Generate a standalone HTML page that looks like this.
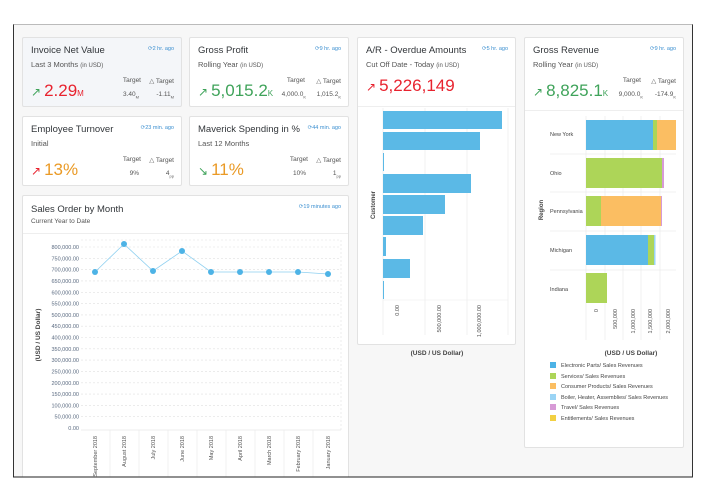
<!DOCTYPE html>
<html><head><meta charset="utf-8"><style>
body{margin:0;width:704px;height:489px;background:#fff;font-family:"Liberation Sans",sans-serif;position:relative;overflow:hidden;color:#32363a}
.frame{position:absolute;left:13px;top:24px;width:678px;height:452px;border:1px solid #333;border-top:1px solid #bbb;background:#f7f7f7;overflow:hidden}
.card{position:absolute;background:#fff;border:1px solid #e2e2e2;border-radius:2px;box-sizing:border-box}
.t{position:absolute;left:8px;top:7px;font-size:9.5px;color:#32363a}
.s{position:absolute;left:8px;top:22px;font-size:7.5px;color:#555}
.s small{font-size:6px}
.ago{position:absolute;right:7px;top:8px;font-size:5.5px;color:#3b8fd0}
.big{position:absolute;left:8px;top:43px;font-size:17px}
.big sub{font-size:8px;vertical-align:baseline}
.ar{font-size:12px;margin-right:3px}
.tl{position:absolute;font-size:6.5px;color:#555;text-align:right}
.red{color:#e8232f}.grn{color:#3fa35a}.org{color:#ea9a26}
svg text{font-family:"Liberation Sans",sans-serif}
</style></head><body>
<div class="frame"></div>
<!-- Invoice -->
<div class="card" style="left:22px;top:37px;width:160px;height:70px;background:#f4f6f9">
<div class="t">Invoice Net Value</div><div class="ago">⟳2 hr. ago</div>
<div class="s">Last 3 Months <small>(in USD)</small></div>
<div class="big red"><span class="ar grn">↗</span>2.29<sub>M</sub></div>
<div class="tl" style="right:40px;top:39px">Target</div><div class="tl" style="right:7px;top:39px">△ Target</div>
<div class="tl" style="right:42px;top:53px">3.40<sub style="font-size:4px">M</sub></div><div class="tl" style="right:7px;top:53px">-1.11<sub style="font-size:4px">M</sub></div>
</div>
<!-- Gross Profit -->
<div class="card" style="left:189px;top:37px;width:160px;height:70px">
<div class="t">Gross Profit</div><div class="ago">⟳9 hr. ago</div>
<div class="s">Rolling Year <small>(in USD)</small></div>
<div class="big grn"><span class="ar">↗</span>5,015.2<sub>K</sub></div>
<div class="tl" style="right:43px;top:39px">Target</div><div class="tl" style="right:7px;top:39px">△ Target</div>
<div class="tl" style="right:42px;top:53px">4,000.0<sub style="font-size:4px">K</sub></div><div class="tl" style="right:7px;top:53px">1,015.2<sub style="font-size:4px">K</sub></div>
</div>
<!-- Employee -->
<div class="card" style="left:22px;top:116px;width:160px;height:70px">
<div class="t">Employee Turnover</div><div class="ago">⟳23 min. ago</div>
<div class="s">Initial</div>
<div class="big org"><span class="ar red">↗</span>13%</div>
<div class="tl" style="right:40px;top:39px">Target</div><div class="tl" style="right:7px;top:39px">△ Target</div>
<div class="tl" style="right:42px;top:53px">9%</div><div class="tl" style="right:7px;top:53px">4<sub style="font-size:4px">pp</sub></div>
</div>
<!-- Maverick -->
<div class="card" style="left:189px;top:116px;width:160px;height:70px">
<div class="t">Maverick Spending in %</div><div class="ago">⟳44 min. ago</div>
<div class="s">Last 12 Months</div>
<div class="big org"><span class="ar grn">↘</span>11%</div>
<div class="tl" style="right:40px;top:39px">Target</div><div class="tl" style="right:7px;top:39px">△ Target</div>
<div class="tl" style="right:42px;top:53px">10%</div><div class="tl" style="right:7px;top:53px">1<sub style="font-size:4px">pp</sub></div>
</div>
<!-- Sales Order -->
<div class="card" style="left:22px;top:195px;width:327px;height:290px">
<div class="t" style="top:8px">Sales Order by Month</div><div class="ago">⟳19 minutes ago</div>
<div class="s" style="top:22px;font-size:6.5px">Current Year to Date</div>
<div style="position:absolute;left:0;right:0;top:37px;border-top:1px solid #eee"></div>
</div>
<svg style="position:absolute;left:0;top:0" width="704" height="489">
<g font-size="5.5" fill="#5a6a80" text-anchor="end">
<g stroke="#e0e0e0" stroke-dasharray="2,2" stroke-width="0.6">
<line x1="81" x2="341" y1="247" y2="247"/><line x1="81" x2="341" y1="258.3" y2="258.3"/><line x1="81" x2="341" y1="269.6" y2="269.6"/><line x1="81" x2="341" y1="280.9" y2="280.9"/><line x1="81" x2="341" y1="292.3" y2="292.3"/><line x1="81" x2="341" y1="303.6" y2="303.6"/><line x1="81" x2="341" y1="314.9" y2="314.9"/><line x1="81" x2="341" y1="326.2" y2="326.2"/><line x1="81" x2="341" y1="337.5" y2="337.5"/><line x1="81" x2="341" y1="348.8" y2="348.8"/><line x1="81" x2="341" y1="360.1" y2="360.1"/><line x1="81" x2="341" y1="371.4" y2="371.4"/><line x1="81" x2="341" y1="382.8" y2="382.8"/><line x1="81" x2="341" y1="394.1" y2="394.1"/><line x1="81" x2="341" y1="405.4" y2="405.4"/><line x1="81" x2="341" y1="416.7" y2="416.7"/><line x1="81" x2="341" y1="240" y2="240"/><line x1="341" x2="341" y1="240" y2="430"/>
</g>
<line x1="81" x2="341" y1="430" y2="430" stroke="#ddd" stroke-width="0.6"/>
<g stroke="#e6e6e6" stroke-width="0.6"><line x1="110" x2="110" y1="430" y2="477"/><line x1="139" x2="139" y1="430" y2="477"/><line x1="168" x2="168" y1="430" y2="477"/><line x1="197" x2="197" y1="430" y2="477"/><line x1="226" x2="226" y1="430" y2="477"/><line x1="255" x2="255" y1="430" y2="477"/><line x1="284" x2="284" y1="430" y2="477"/><line x1="313" x2="313" y1="430" y2="477"/></g>
<text x="79" y="249">800,000.00</text><text x="79" y="260.3">750,000.00</text><text x="79" y="271.6">700,000.00</text><text x="79" y="282.9">650,000.00</text><text x="79" y="294.3">600,000.00</text><text x="79" y="305.6">550,000.00</text><text x="79" y="316.9">500,000.00</text><text x="79" y="328.2">450,000.00</text><text x="79" y="339.5">400,000.00</text><text x="79" y="350.8">350,000.00</text><text x="79" y="362.1">300,000.00</text><text x="79" y="373.4">250,000.00</text><text x="79" y="384.8">200,000.00</text><text x="79" y="396.1">150,000.00</text><text x="79" y="407.4">100,000.00</text><text x="79" y="418.7">50,000.00</text><text x="79" y="430">0.00</text>
</g>
<text transform="translate(40,335) rotate(-90)" font-size="6.5" font-weight="bold" fill="#444" text-anchor="middle">(USD / US Dollar)</text>
<polyline points="95,272 124,244 153,271 182,251 211,272 240,272 269,272 298,272 328,274" fill="none" stroke="#8fd0f0" stroke-width="0.8"/>
<g fill="#4db3e6"><circle cx="95" cy="272" r="3"/><circle cx="124" cy="244" r="3"/><circle cx="153" cy="271" r="3"/><circle cx="182" cy="251" r="3"/><circle cx="211" cy="272" r="3"/><circle cx="240" cy="272" r="3"/><circle cx="269" cy="272" r="3"/><circle cx="298" cy="272" r="3"/><circle cx="328" cy="274" r="3"/></g>
<g font-size="5.5" fill="#555" text-anchor="end">
<text transform="translate(97,436) rotate(-90)">September 2018</text><text transform="translate(126,436) rotate(-90)">August 2018</text><text transform="translate(155,436) rotate(-90)">July 2018</text><text transform="translate(184,436) rotate(-90)">June 2018</text><text transform="translate(213,436) rotate(-90)">May 2018</text><text transform="translate(242,436) rotate(-90)">April 2018</text><text transform="translate(271,436) rotate(-90)">March 2018</text><text transform="translate(300,436) rotate(-90)">February 2018</text><text transform="translate(330,436) rotate(-90)">January 2018</text>
</g>
</svg>
<!-- A/R -->
<div class="card" style="left:357px;top:37px;width:159px;height:308px">
<div class="t">A/R - Overdue Amounts</div><div class="ago">⟳5 hr. ago</div>
<div class="s">Cut Off Date - Today <small>(in USD)</small></div>
<div class="big red" style="top:38px"><span class="ar">↗</span>5,226,149</div>
<div style="position:absolute;left:0;right:0;top:68px;border-top:1px solid #eee"></div>
</div>
<!-- Gross Revenue -->
<div class="card" style="left:524px;top:37px;width:160px;height:411px">
<div class="t">Gross Revenue</div><div class="ago">⟳9 hr. ago</div>
<div class="s">Rolling Year <small>(in USD)</small></div>
<div class="big grn"><span class="ar">↗</span>8,825.1<sub>K</sub></div>
<div class="tl" style="right:42px;top:39px">Target</div><div class="tl" style="right:7px;top:39px">△ Target</div>
<div class="tl" style="right:40px;top:53px">9,000.0<sub style="font-size:4px">K</sub></div><div class="tl" style="right:7px;top:53px">-174.9<sub style="font-size:4px">K</sub></div>
<div style="position:absolute;left:0;right:0;top:72px;border-top:1px solid #eee"></div>
</div>
<svg style="position:absolute;left:0;top:0" width="704" height="489">
<g stroke="#eaeaea" stroke-width="0.6"><line x1="383" x2="383" y1="108" y2="335"/><line x1="425" x2="425" y1="108" y2="335"/><line x1="467" x2="467" y1="108" y2="335"/><line x1="508" x2="508" y1="108" y2="335"/><line x1="383" x2="508" y1="300" y2="300"/></g>
<g fill="#5bb9e6"><rect x="383" y="111" width="119" height="18"/><rect x="383" y="132" width="97" height="18"/><rect x="383" y="153" width="1" height="18"/><rect x="383" y="174" width="88" height="19"/><rect x="383" y="195" width="62" height="19"/><rect x="383" y="216" width="40" height="19"/><rect x="383" y="237" width="3" height="19"/><rect x="383" y="259" width="27" height="19"/><rect x="383" y="281" width="1" height="18"/></g>
<text transform="translate(375,205) rotate(-90)" font-size="6" font-weight="bold" fill="#444" text-anchor="middle">Customer</text>
<g font-size="5.5" fill="#555" text-anchor="end"><text transform="translate(399,305) rotate(-90)">0.00</text><text transform="translate(441,305) rotate(-90)">500,000.00</text><text transform="translate(481,305) rotate(-90)">1,000,000.00</text></g>
<text x="437" y="355" font-size="6.5" font-weight="bold" fill="#444" text-anchor="middle">(USD / US Dollar)</text>
<!-- revenue -->
<g stroke="#e6e6e6" stroke-width="0.6"><line x1="550" x2="676" y1="154" y2="154"/><line x1="550" x2="676" y1="192" y2="192"/><line x1="550" x2="676" y1="231" y2="231"/><line x1="550" x2="676" y1="270" y2="270"/><line x1="586" x2="586" y1="116" y2="340"/><line x1="605" x2="605" y1="116" y2="340"/><line x1="623" x2="623" y1="116" y2="340"/><line x1="641" x2="641" y1="116" y2="340"/><line x1="660" x2="660" y1="116" y2="340"/></g>
<rect x="586" y="120" width="67" height="30" fill="#5bb9e6"/><rect x="653" y="120" width="4" height="30" fill="#add558"/><rect x="657" y="120" width="19" height="30" fill="#fbbe62"/>
<rect x="586" y="158" width="76" height="30" fill="#add558"/><rect x="662" y="158" width="2" height="30" fill="#d79ad6"/>
<rect x="586" y="196" width="15" height="30" fill="#add558"/><rect x="601" y="196" width="60" height="30" fill="#fbbe62"/><rect x="661" y="196" width="1" height="30" fill="#d79ad6"/>
<rect x="586" y="235" width="62" height="30" fill="#5bb9e6"/><rect x="648" y="235" width="6" height="30" fill="#add558"/><rect x="654" y="235" width="1.5" height="30" fill="#9ad4f5"/>
<rect x="586" y="273" width="21" height="30" fill="#add558"/>
<g font-size="5.5" fill="#444"><text x="550" y="136">New York</text><text x="550" y="175">Ohio</text><text x="550" y="213">Pennsylvania</text><text x="550" y="252">Michigan</text><text x="550" y="291">Indiana</text></g>
<text transform="translate(543,210) rotate(-90)" font-size="6" font-weight="bold" fill="#444" text-anchor="middle">Region</text>
<g font-size="5.5" fill="#555" text-anchor="end"><text transform="translate(598,309) rotate(-90)">0</text><text transform="translate(617,309) rotate(-90)">500,000</text><text transform="translate(635,309) rotate(-90)">1,000,000</text><text transform="translate(652,309) rotate(-90)">1,500,000</text><text transform="translate(670,309) rotate(-90)">2,000,000</text></g>
<text x="631" y="355" font-size="6.5" font-weight="bold" fill="#444" text-anchor="middle">(USD / US Dollar)</text>
<g font-size="5.5" fill="#444">
<rect x="550" y="362" width="6" height="6" fill="#4db3e6"/><text x="561" y="367">Electronic Parts/ Sales Revenues</text>
<rect x="550" y="373" width="6" height="6" fill="#add558"/><text x="561" y="378">Services/ Sales Revenues</text>
<rect x="550" y="383" width="6" height="6" fill="#fbbe62"/><text x="561" y="388">Consumer Products/ Sales Revenues</text>
<rect x="550" y="394" width="6" height="6" fill="#9ad4f5"/><text x="561" y="399">Boiler, Heater, Assemblies/ Sales Revenues</text>
<rect x="550" y="404" width="6" height="6" fill="#d79ad6"/><text x="561" y="409">Travel/ Sales Revenues</text>
<rect x="550" y="415" width="6" height="6" fill="#f2d042"/><text x="561" y="420">Entitlements/ Sales Revenues</text>
</g>
<rect x="0" y="477.5" width="704" height="12" fill="#fff"/>
<line x1="13" x2="692" y1="477" y2="477" stroke="#222" stroke-width="1"/>
</svg>
</body></html>
